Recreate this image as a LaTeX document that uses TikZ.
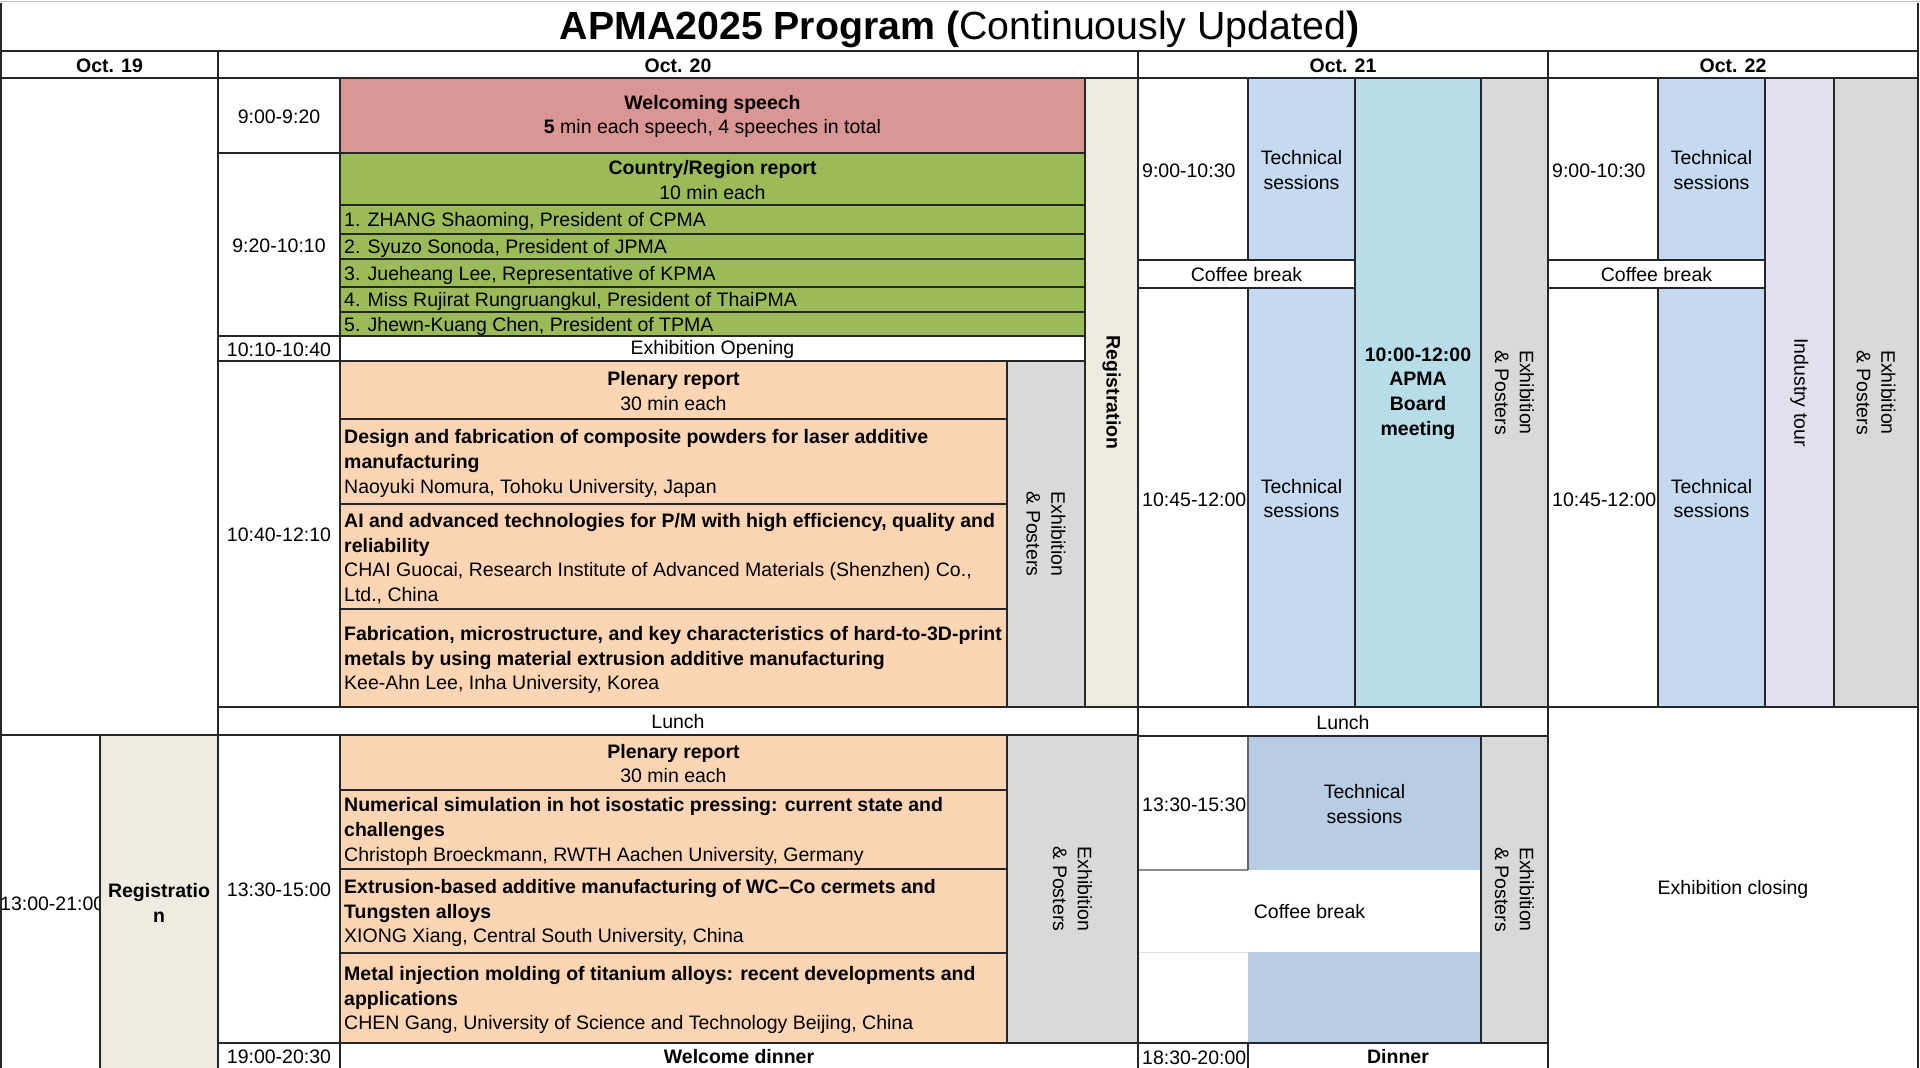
\documentclass[tikz,border=0pt]{standalone}
\usepackage{fontspec}
\setmainfont{Liberation Sans}
\definecolor{cWelc}{HTML}{DA9694}
\definecolor{cCtry}{HTML}{9BBB59}
\definecolor{cPlen}{HTML}{FCD5B4}
\definecolor{cGray}{HTML}{D9D9D9}
\definecolor{cReg}{HTML}{EEECE1}
\definecolor{cTech}{HTML}{C5D9F1}
\definecolor{cTechB}{HTML}{B8CCE4}
\definecolor{cApma}{HTML}{B7DEE8}
\definecolor{cTour}{HTML}{E4DFEC}
\newcommand{\bodyf}{\fontsize{19.5}{24.6}\selectfont}
\newcommand{\titlef}{\fontsize{39.3}{42}\selectfont}
\newcommand{\tb}[1]{\textbf{#1}}
% name, x1, y1, x2, y2, fill, node options, text
\newcommand{\cellbox}[8]{%
  \filldraw[grid,fill=#6] (#2,#3) rectangle (#4,#5);
  \node[#7] (#1) at ({(#2+#4)/2},{(#3+#5)/2}) {#8};}
% name, x1, y1, x2, y2, fill, text (left aligned)
\newcommand{\leftbox}[7]{%
  \filldraw[grid,fill=#6] (#2,#3) rectangle (#4,#5);
  \node[ltxt] (#1) at ({#2+4},{(#3+#5)/2}) {#7};}
\begin{document}
\begin{tikzpicture}[x=1pt,y=-1pt,
  grid/.style={draw=black!85,line width=1.4pt},
  txt/.style={font=\bodyf,align=center,inner sep=0pt,yshift=-1pt},
  btxt/.style={font=\bodyf\bfseries,align=center,inner sep=0pt,yshift=-1pt},
  ltxt/.style={font=\bodyf,align=left,inner sep=0pt,anchor=west,yshift=-2pt},
  vtxt/.style={font=\bodyf,align=center,inner sep=0pt,rotate=-90},
  vbtxt/.style={font=\bodyf\bfseries,align=center,inner sep=0pt,rotate=-90}]
\useasboundingbox (0,0) rectangle (1920,1068);
\clip (0,0) rectangle (1920,1068);
\fill[white] (0,0) rectangle (1920,1068);
\draw[black!25,line width=1pt] (0,1) -- (1920,1);
% title
\draw[grid] (1,3) -- (1,51) -- (1918,51) -- (1918,3);
\node[font=\titlef,inner sep=0pt] (title) at (959.5,29.5) {\textbf{APMA2025 Program (}Continuously Updated\textbf{)}};
% date headers
\cellbox{d19}{1}{51}{218}{78}{white}{btxt}{Oct. 19}
\cellbox{d20}{218}{51}{1138}{78}{white}{btxt}{Oct. 20}
\cellbox{d21}{1138}{51}{1548}{78}{white}{btxt}{Oct. 21}
\cellbox{d22}{1548}{51}{1918}{78}{white}{btxt}{Oct. 22}
% Oct 19
\cellbox{o19am}{1}{78}{218}{735}{white}{txt}{}
\filldraw[grid,fill=white] (1,735) rectangle (100,1069);
\node[ltxt] (t19) at (0,902) {13:00-21:00};
\cellbox{reg19}{100}{735}{218}{1069}{cReg}{btxt}{Registratio\\n}
% Oct 20 times
\cellbox{t1}{218}{78}{340}{153}{white}{txt}{9:00-9:20}
\cellbox{t2}{218}{153}{340}{336}{white}{txt}{9:20-10:10}
\cellbox{t3}{218}{336}{340}{361}{white}{txt}{10:10-10:40}
\cellbox{t4}{218}{361}{340}{707}{white}{txt}{10:40-12:10}
\cellbox{lunch20}{218}{707}{1138}{735}{white}{txt}{Lunch}
\cellbox{t5}{218}{735}{340}{1043}{white}{txt}{13:30-15:00}
\cellbox{t6}{218}{1043}{340}{1069}{white}{txt}{19:00-20:30}
% Oct 20 morning
\cellbox{welc}{340}{78}{1085}{153}{cWelc}{txt}{\tb{Welcoming speech}\\\tb{5} min each speech, 4 speeches in total}
\cellbox{ctry}{340}{153}{1085}{205}{cCtry}{txt}{\tb{Country/Region report}\\10 min each}
\leftbox{c1}{340}{205}{1085}{234}{cCtry}{1. ZHANG Shaoming, President of CPMA}
\leftbox{c2}{340}{234}{1085}{259}{cCtry}{2. Syuzo Sonoda, President of JPMA}
\leftbox{c3}{340}{259}{1085}{287}{cCtry}{3. Jueheang Lee, Representative of KPMA}
\leftbox{c4}{340}{287}{1085}{312}{cCtry}{4. Miss Rujirat Rungruangkul, President of ThaiPMA}
\leftbox{c5}{340}{312}{1085}{336}{cCtry}{5. Jhewn-Kuang Chen, President of TPMA}
\cellbox{exop}{340}{336}{1085}{361}{white}{txt}{Exhibition Opening}
\cellbox{plen1}{340}{361}{1007}{419}{cPlen}{txt}{\tb{Plenary report}\\30 min each}
\leftbox{p11}{340}{419}{1007}{504}{cPlen}{\tb{Design and fabrication of composite powders for laser additive}\\\tb{manufacturing}\\Naoyuki Nomura, Tohoku University, Japan}
\leftbox{p12}{340}{504}{1007}{609}{cPlen}{\tb{AI and advanced technologies for P/M with high efficiency, quality and}\\\tb{reliability}\\CHAI Guocai, Research Institute of Advanced Materials (Shenzhen) Co.,\\Ltd., China}
\leftbox{p13}{340}{609}{1007}{707}{cPlen}{\tb{Fabrication, microstructure, and key characteristics of hard-to-3D-print}\\\tb{metals by using material extrusion additive manufacturing}\\Kee-Ahn Lee, Inha University, Korea}
\cellbox{ex20a}{1007}{361}{1085}{707}{cGray}{vtxt}{Exhibition\\\& Posters}
\cellbox{reg20}{1085}{78}{1138}{707}{cReg}{vbtxt}{Registration}
% Oct 20 afternoon
\cellbox{plen2}{340}{735}{1007}{790}{cPlen}{txt}{\tb{Plenary report}\\30 min each}
\leftbox{p21}{340}{790}{1007}{869}{cPlen}{\tb{Numerical simulation in hot isostatic pressing: current state and}\\\tb{challenges}\\Christoph Broeckmann, RWTH Aachen University, Germany}
\leftbox{p22}{340}{869}{1007}{953}{cPlen}{\tb{Extrusion-based additive manufacturing of WC–Co cermets and}\\\tb{Tungsten alloys}\\XIONG Xiang, Central South University, China}
\leftbox{p23}{340}{953}{1007}{1043}{cPlen}{\tb{Metal injection molding of titanium alloys: recent developments and}\\\tb{applications}\\CHEN Gang, University of Science and Technology Beijing, China}
\cellbox{ex20p}{1007}{735}{1138}{1043}{cGray}{vtxt}{Exhibition\\\& Posters}
\cellbox{din20}{340}{1043}{1138}{1069}{white}{btxt}{Welcome dinner}
% Oct 21 morning
\leftbox{t21a}{1138}{78}{1248}{260}{white}{9:00-10:30}
\cellbox{ts21a}{1248}{78}{1355}{260}{cTech}{txt}{Technical\\sessions}
\cellbox{cb21}{1138}{260}{1355}{288}{white}{txt}{Coffee break}
\leftbox{t21b}{1138}{288}{1248}{707}{white}{10:45-12:00}
\cellbox{ts21b}{1248}{288}{1355}{707}{cTech}{txt}{Technical\\sessions}
\cellbox{apma}{1355}{78}{1481}{707}{cApma}{btxt}{10:00-12:00\\APMA\\Board\\meeting}
\cellbox{ex21a}{1481}{78}{1548}{707}{cGray}{vtxt}{Exhibition\\\& Posters}
\cellbox{lunch21}{1138}{707}{1548}{736}{white}{txt}{Lunch}
% Oct 21 afternoon
\fill[cTechB] (1248,736) rectangle (1481,870);
\fill[cTechB] (1248,952) rectangle (1481,1043);
\node[txt] (ts21c) at (1364.5,803) {Technical\\sessions};
\node[ltxt] (t21c) at (1142,803) {13:30-15:30};
\node[txt] (cb21p) at (1309.5,911) {Coffee break};
\draw[black!45,line width=1.2pt] (1138,870) -- (1248,870);
\draw[black!12,line width=1pt] (1138,952) -- (1248,952);
\draw[black!60,line width=1.2pt] (1248,736) -- (1248,870);
\draw[grid] (1138,736) rectangle (1481,1043);
\cellbox{ex21p}{1481}{736}{1548}{1043}{cGray}{vtxt}{Exhibition\\\& Posters}
\leftbox{t21d}{1138}{1043}{1248}{1069}{white}{18:30-20:00}
\cellbox{din21}{1248}{1043}{1548}{1069}{white}{btxt}{Dinner}
% Oct 22
\leftbox{t22a}{1548}{78}{1658}{260}{white}{9:00-10:30}
\cellbox{ts22a}{1658}{78}{1765}{260}{cTech}{txt}{Technical\\sessions}
\cellbox{cb22}{1548}{260}{1765}{288}{white}{txt}{Coffee break}
\leftbox{t22b}{1548}{288}{1658}{707}{white}{10:45-12:00}
\cellbox{ts22b}{1658}{288}{1765}{707}{cTech}{txt}{Technical\\sessions}
\cellbox{tour}{1765}{78}{1834}{707}{cTour}{vtxt}{Industry tour}
\cellbox{ex22}{1834}{78}{1918}{707}{cGray}{vtxt}{Exhibition\\\& Posters}
\cellbox{close22}{1548}{707}{1918}{1069}{white}{txt}{Exhibition closing}
\end{tikzpicture}
\end{document}
